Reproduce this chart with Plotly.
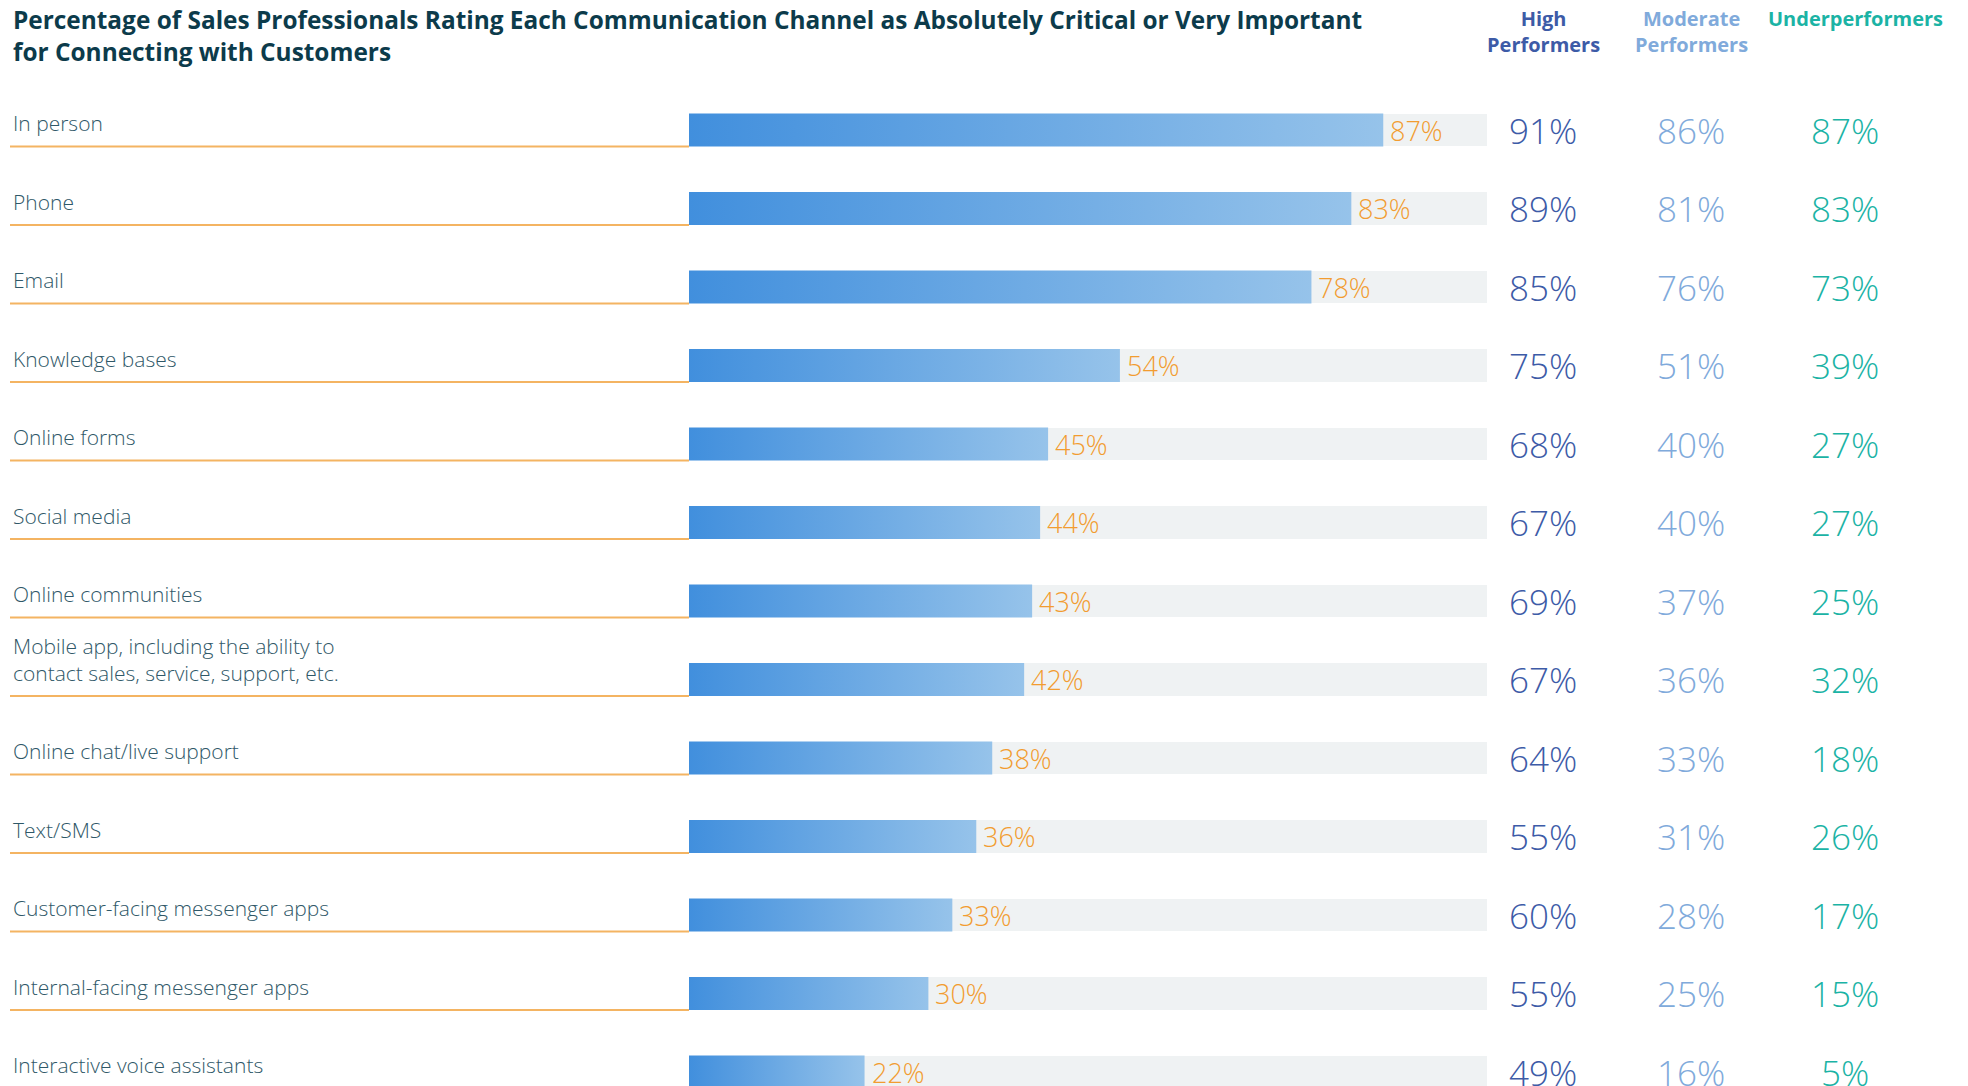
import plotly.graph_objects as go

categories = [
    "In person", "Phone", "Email", "Knowledge bases", "Online forms", "Social media",
    "Online communities",
    "Mobile app, including the ability to<br>contact sales, service, support, etc.",
    "Online chat/live support", "Text/SMS", "Customer-facing messenger apps",
    "Internal-facing messenger apps", "Interactive voice assistants",
]
overall = [87, 83, 78, 54, 45, 44, 43, 42, 38, 36, 33, 30, 22]
high_perf = [91, 89, 85, 75, 68, 67, 69, 67, 64, 55, 60, 55, 49]
moderate_perf = [86, 81, 76, 51, 40, 40, 37, 36, 33, 31, 28, 25, 16]
under_perf = [87, 83, 73, 39, 27, 27, 25, 32, 18, 26, 17, 15, 5]
group_names = ["High<br>Performers", "Moderate<br>Performers", "Underperformers"]
group_values = [high_perf, moderate_perf, under_perf]

W, H = 1968, 1086
TITLE = ("Percentage of Sales Professionals Rating Each Communication Channel as Absolutely Critical or Very Important"
         "<br>for Connecting with Customers")

# styling
title_color = "#0c3b4b"
label_color = "#2f5868"
orange = "#f29c30"
line_orange = "#f4b462"
track_color = "#eff2f3"
group_colors = ["#3d5ba7", "#80aadb", "#1bb3a5"]
header_x = [1543 / W, 1691 / W, 1855 / W]
value_x = [1543 / W, 1691 / W, 1845 / W]
bar_left = 689 / W
bar_right = 1487 / W
half_h = 0.21
pitch = 78.5
first_center = 130
half_px = half_h * pitch

idx = list(range(len(categories)))

fig = go.Figure()

# background track
fig.add_trace(go.Bar(
    x=[100] * len(idx), y=idx, orientation="h", width=2 * half_h,
    marker=dict(color=track_color, line=dict(width=0)), hoverinfo="skip", showlegend=False,
))

# gradient bars
for i, v in zip(idx, overall):
    fig.add_trace(go.Scatter(
        x=[0, v, v, 0, 0],
        y=[i - half_h, i - half_h, i + half_h, i + half_h, i - half_h],
        mode="lines", fill="toself", line=dict(width=0, color="rgba(0,0,0,0)"),
        fillgradient=dict(type="horizontal", colorscale=[[0, "#418fdd"], [1, "#96c3ea"]]),
        hoverinfo="skip", showlegend=False,
    ))

annotations = []
shapes = []

annotations.append(dict(
    text=TITLE, x=11 / W, y=1, xref="paper", yref="paper", xanchor="left", yanchor="top",
    yshift=-1, align="left", showarrow=False,
    font=dict(family="Open Sans", size=24.4, color=title_color, weight=700),
))

for name, col, gx in zip(group_names, group_colors, header_x):
    annotations.append(dict(
        text=name, x=gx, y=1, xref="paper", yref="paper", xanchor="center", yanchor="top",
        yshift=-3, align="center", showarrow=False,
        font=dict(family="Open Sans", size=20, color=col, weight=700),
    ))

for i, cat, v in zip(idx, categories, overall):
    annotations.append(dict(
        text=cat, x=11 / W, y=i, xref="paper", yref="y", xanchor="left", yanchor="bottom",
        yshift=7 - half_px, align="left", showarrow=False,
        font=dict(family="Open Sans", size=21, color=label_color, weight=300),
    ))
    annotations.append(dict(
        text=f"{v}%", x=v, y=i, xref="x", yref="y", xanchor="left", yanchor="middle",
        xshift=5, showarrow=False,
        font=dict(family="Open Sans", size=27, color=orange, weight=300),
    ))
    shapes.append(dict(
        type="line", xref="paper", yref="y", x0=10 / W, x1=bar_left, y0=i + half_h, y1=i + half_h,
        line=dict(color=line_orange, width=2),
    ))

for vals, col, gx in zip(group_values, group_colors, value_x):
    for i, v in zip(idx, vals):
        annotations.append(dict(
            text=f"{v}%", x=gx, y=i, xref="paper", yref="y", xanchor="center", yanchor="middle",
            showarrow=False,
            font=dict(family="Open Sans", size=35, color=col, weight=300),
        ))

rows_in_view = H / pitch
top = -first_center / pitch
fig.update_layout(
    width=W, height=H, margin=dict(l=0, r=0, t=0, b=0),
    paper_bgcolor="white", plot_bgcolor="white",
    xaxis=dict(domain=[bar_left, bar_right], range=[0, 100], visible=False, fixedrange=True),
    yaxis=dict(range=[top + rows_in_view, top], visible=False, fixedrange=True),
    bargap=0, showlegend=False, hovermode=False,
    annotations=annotations, shapes=shapes,
)

fig.write_html("out.html", config={"displayModeBar": False},
               post_script="document.body.style.margin='0';")
